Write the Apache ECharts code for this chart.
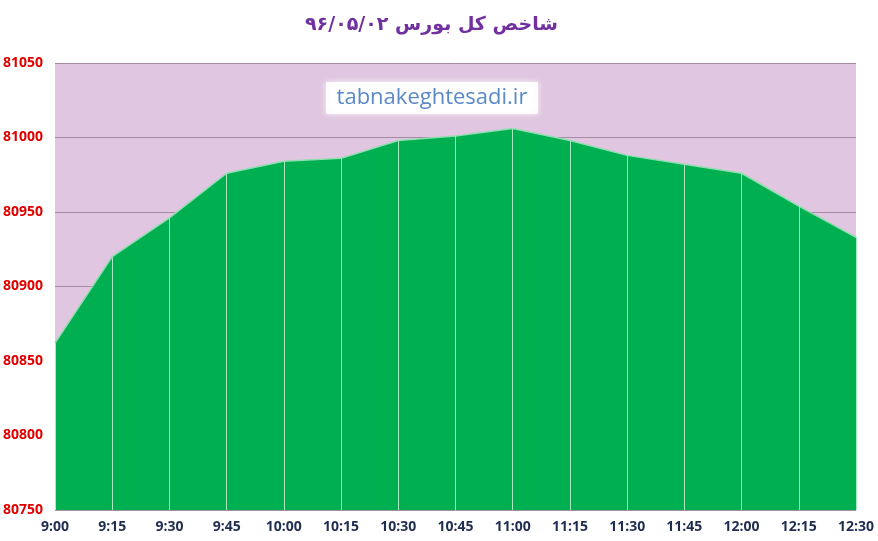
<!DOCTYPE html>
<html lang="fa">
<head>
    <meta charset="UTF-8">
    <title>شاخص کل بورس</title>
    <script type="text/javascript" src="https://cdn.jsdelivr.net/npm/echarts@6/dist/echarts.min.js"></script>
    <style>
        html, body { margin: 0; padding: 0; background: #fff; }
    </style>
</head>
<body>
    <div id="main" style="width:878px;height:541px;"></div>
<script type="text/javascript">
    // ساعت‌ها و مقدار شاخص
    var times = ['9:00', '9:15', '9:30', '9:45', '10:00', '10:15', '10:30', '10:45',
        '11:00', '11:15', '11:30', '11:45', '12:00', '12:15', '12:30'];
    var index = [80862, 80920, 80946, 80976, 80984, 80986, 80998, 81001,
        81006, 80998, 80988, 80982, 80976, 80954, 80933];
    var yMin = 80750, yMax = 81050, yStep = 50;

    // vertical drop lines under each point
    var drops = [];
    for (var i = 0; i < times.length; i++) {
        drops.push([{ coord: [times[i], yMin] }, { coord: [times[i], index[i]] }]);
    }

    var chart = echarts.init(document.getElementById('main'));
    chart.setOption({
        animation: false,
        title: {
            text: 'شاخص کل بورس ۹۶/۰۵/۰۲',
            left: 300,
            top: 11,
            textStyle: {
                color: '#7030A0',
                fontFamily: 'DejaVu Sans',
                fontWeight: 'bold',
                fontSize: 19
            }
        },
        grid: {
            left: 55,
            right: 22,
            top: 63,
            bottom: 31,
            outerBoundsMode: 'none',
            containLabel: false,
            show: true,
            backgroundColor: '#E0C6E0',
            borderWidth: 0
        },
        xAxis: {
            type: 'category',
            boundaryGap: false,
            data: times,
            axisLine: { show: false },
            axisTick: { show: false },
            splitLine: { show: false },
            axisLabel: {
                color: '#1F2D50',
                fontWeight: 'bold',
                fontSize: 14,
                fontFamily: 'Open Sans',
                margin: 10
            }
        },
        yAxis: {
            type: 'value',
            min: yMin,
            max: yMax,
            interval: yStep,
            axisLine: { show: false },
            axisTick: { show: false },
            splitLine: { lineStyle: { color: '#A48CA4', width: 1 } },
            axisLabel: {
                color: '#E00000',
                fontWeight: 'bold',
                fontSize: 14,
                fontFamily: 'Open Sans',
                margin: 12,
                formatter: function (v) { return String(v); }
            }
        },
        graphic: [{
            type: 'group',
            left: 326,
            top: 82,
            children: [{
                type: 'rect',
                shape: { x: 0, y: 0, width: 212, height: 32 },
                style: { fill: 'rgba(255,255,255,0.92)', shadowBlur: 6, shadowColor: 'rgba(255,255,255,0.9)' }
            }, {
                type: 'text',
                x: 106,
                y: 16,
                style: {
                    text: 'tabnakeghtesadi.ir',
                    fill: '#5A8AC6',
                    font: '22px "Open Sans"',
                    align: 'center',
                    verticalAlign: 'middle'
                }
            }]
        }],
        series: [{
            name: 'شاخص',
            type: 'line',
            data: index,
            symbol: 'none',
            lineStyle: { color: '#8FDDB0', width: 1.5 },
            areaStyle: { color: '#00B050', opacity: 1, origin: 'start' },
            markLine: {
                silent: true,
                symbol: 'none',
                label: { show: false },
                lineStyle: { color: '#A8E8C0', type: 'solid', width: 1 },
                data: drops
            }
        }]
    });
</script>
</body>
</html>
